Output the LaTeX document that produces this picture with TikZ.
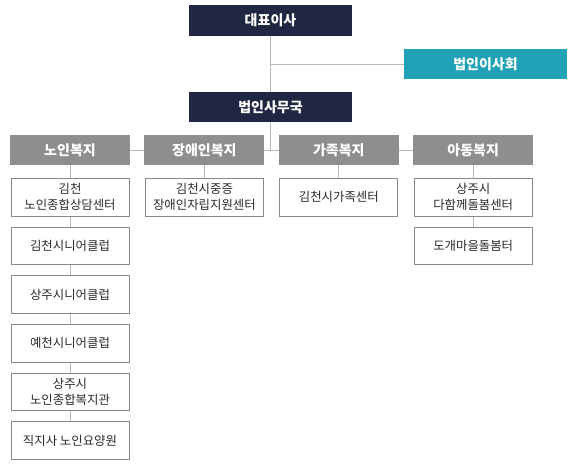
\documentclass[tikz,border=0pt]{standalone}
\usepackage{fontspec}
\setmainfont{Noto Sans CJK KR}
\usepackage{tikz}
\usetikzlibrary{positioning, backgrounds}

\definecolor{navy}{HTML}{1F2742}
\definecolor{teal}{HTML}{1FA2B6}
\definecolor{headgray}{HTML}{8E8E8E}
\definecolor{linkgray}{HTML}{B8B8B8}
\definecolor{boxgray}{HTML}{8A8A8A}
\definecolor{txtgray}{HTML}{2A2A2A}

\begin{document}
\begin{tikzpicture}[
  x=1pt, y=-1pt,
  top/.style={rectangle, fill=navy, text=white, minimum width=163pt,
              minimum height=31pt, inner sep=0pt,
              font=\fontsize{14}{16}\selectfont\bfseries},
  board/.style={top, fill=teal, minimum height=30pt},
  head/.style={rectangle, fill=headgray, text=white, minimum width=120pt,
               minimum height=30pt, inner sep=0pt,
               font=\fontsize{14}{16}\selectfont\bfseries},
  unit/.style={rectangle, draw=boxgray, fill=white, text=txtgray,
               line width=0.8pt, minimum width=118pt, minimum height=37.5pt,
               inner sep=0pt, align=center,
               font=\fontsize{12.4}{16}\selectfont},
  link/.style={draw=linkgray, line width=1pt},
]
\useasboundingbox (0,0) rectangle (577,466);
% top levels
\node[top] (ceo) at (270.5,20) {대표이사};
\node[board] (brd) at (485.5,64) {법인이사회};
\node[top, minimum height=30pt] (office) at (270.5,107) {법인사무국};
% divisions
\node[head] (elder) at (70,150) {노인복지};
\node[head, right=14pt of elder] (disab) {장애인복지};
\node[head, right=14pt of disab] (family) {가족복지};
\node[head, right=14pt of family] (child) {아동복지};
% units
\node[unit, below=13pt of elder] (e1) {김천\\노인종합상담센터};
\node[unit, below=10.3pt of e1] (e2) {김천시니어클럽};
\node[unit, below=10.3pt of e2] (e3) {상주시니어클럽};
\node[unit, below=10.3pt of e3] (e4) {예천시니어클럽};
\node[unit, below=10.3pt of e4] (e5) {상주시\\노인종합복지관};
\node[unit, below=10.3pt of e5] (e6) {직지사 노인요양원};
\node[unit, below=13pt of disab] (d1) {김천시중증\\장애인자립지원센터};
\node[unit, below=13pt of family] (f1) {김천시가족센터};
\node[unit, below=13pt of child] (c1) {상주시\\다함께돌봄센터};
\node[unit, below=10.3pt of c1] (c2) {도개마을돌봄터};
% connectors
\begin{scope}[on background layer]
\fill[white] (0,0) rectangle (577,466);
\draw[link] (ceo) -- (office);
\draw[link] (brd.west) -- (brd.west -| ceo.south);
\draw[link] (office.south) -- (office.south |- elder.east);
\draw[link] (elder.east) -- (child.west);
\draw[link] (elder) -- (e1) -- (e2) -- (e3) -- (e4) -- (e5) -- (e6);
\draw[link] (disab) -- (d1);
\draw[link] (family) -- (f1);
\draw[link] (child) -- (c1) -- (c2);
\end{scope}
\end{tikzpicture}
\end{document}
